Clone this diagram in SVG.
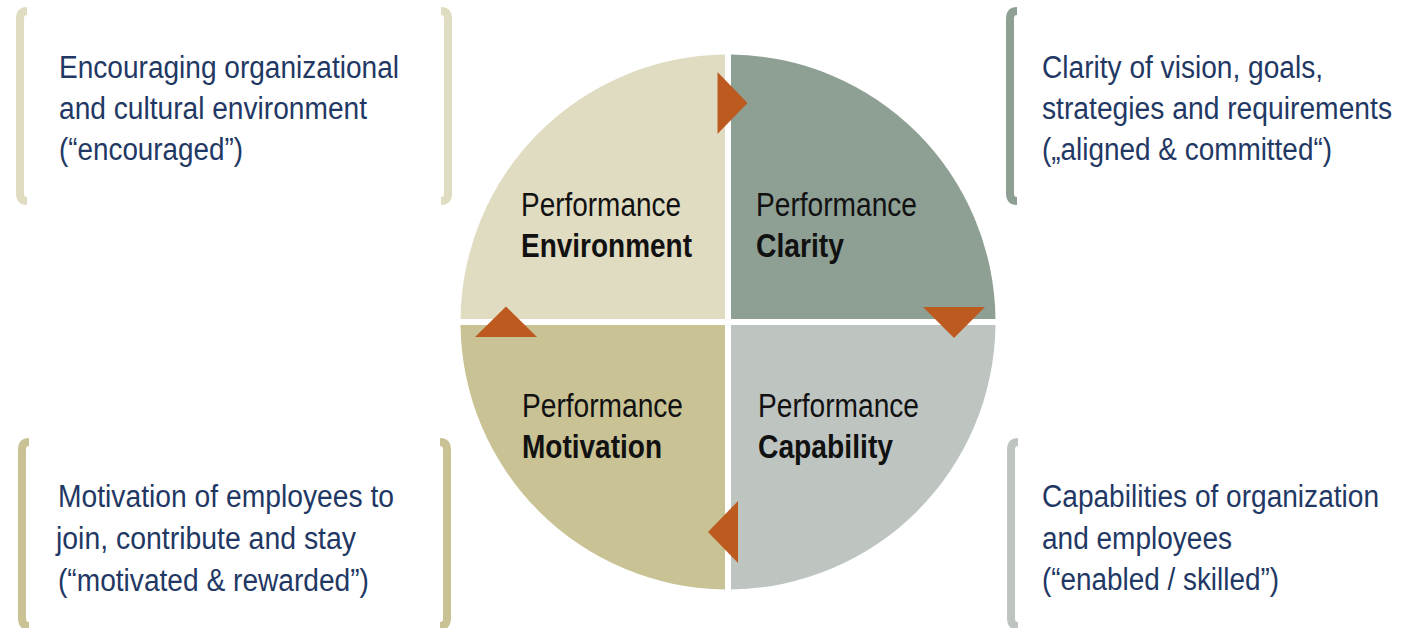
<svg xmlns="http://www.w3.org/2000/svg" width="1425" height="628" viewBox="0 0 1425 628">
<style>
  .q { stroke: none; }
  .lbl { font-family: "Liberation Sans Narrow", "Liberation Sans", Arial, sans-serif; font-size: 33px; fill: #111111; }
  .desc { font-family: "Liberation Sans Narrow", "Liberation Sans", Arial, sans-serif; font-size: 31px; fill: #1F3864; }
  .br { fill: none; stroke-width: 8; stroke-linecap: butt; }
  .arrow { fill: #BD5A1F; stroke: none; }
</style>
<rect x="0" y="0" width="1425" height="628" fill="#FFFFFF"/>

<g id="node-environment">
  <path class="q" fill="#E0DCC2" d="M725,319 V54.52 A267.5,267.5 0 0 0 460.52,319 Z"/>
  <text class="lbl" x="521" y="216" textLength="160" lengthAdjust="spacingAndGlyphs">Performance</text>
  <text class="lbl" x="521" y="257" textLength="171" lengthAdjust="spacingAndGlyphs" font-weight="bold">Environment</text>
</g>

<g id="node-clarity">
  <path class="q" fill="#8E9F94" d="M731,319 H995.48 A267.5,267.5 0 0 0 731,54.52 Z"/>
  <text class="lbl" x="756" y="216" textLength="161" lengthAdjust="spacingAndGlyphs">Performance</text>
  <text class="lbl" x="756" y="257" textLength="88" lengthAdjust="spacingAndGlyphs" font-weight="bold">Clarity</text>
</g>

<g id="node-capability">
  <path class="q" fill="#BEC5C1" d="M731,325 V589.48 A267.5,267.5 0 0 0 995.48,325 Z"/>
  <text class="lbl" x="758" y="417" textLength="161" lengthAdjust="spacingAndGlyphs">Performance</text>
  <text class="lbl" x="758" y="458" textLength="135" lengthAdjust="spacingAndGlyphs" font-weight="bold">Capability</text>
</g>

<g id="node-motivation">
  <path class="q" fill="#C9C294" d="M725,325 H460.52 A267.5,267.5 0 0 0 725,589.48 Z"/>
  <text class="lbl" x="522" y="417" textLength="161" lengthAdjust="spacingAndGlyphs">Performance</text>
  <text class="lbl" x="522" y="458" textLength="140" lengthAdjust="spacingAndGlyphs" font-weight="bold">Motivation</text>
</g>

<g id="connectors">
  <polygon class="arrow" points="717.5,72 747.5,103 717.5,134"/>
  <polygon class="arrow" points="923,307 985,307 954,338"/>
  <polygon class="arrow" points="738,501 708,532 738,563"/>
  <polygon class="arrow" points="475,337 506,306.5 537,337"/>
</g>

<g id="desc-environment">
  <path class="br" stroke="#E0DCC2" d="M27,11 Q20,11 20,19 V193 Q20,201 27,201"/>
  <path class="br" stroke="#E0DCC2" d="M441,11 Q448,11 448,19 V193 Q448,201 441,201"/>
  <text class="desc" x="59" y="78" textLength="340" lengthAdjust="spacingAndGlyphs">Encouraging organizational</text>
  <text class="desc" x="59" y="119" textLength="308" lengthAdjust="spacingAndGlyphs">and cultural environment</text>
  <text class="desc" x="59" y="160" textLength="184" lengthAdjust="spacingAndGlyphs">(“encouraged”)</text>
</g>

<g id="desc-clarity">
  <path class="br" stroke="#8E9F94" d="M1017,11 Q1010,11 1010,19 V193 Q1010,201 1017,201"/>
  <text class="desc" x="1042" y="78" textLength="281" lengthAdjust="spacingAndGlyphs">Clarity of vision, goals,</text>
  <text class="desc" x="1042" y="119" textLength="350" lengthAdjust="spacingAndGlyphs">strategies and requirements</text>
  <text class="desc" x="1042" y="160" textLength="290" lengthAdjust="spacingAndGlyphs">(„aligned &amp; committed“)</text>
</g>

<g id="desc-motivation">
  <path class="br" stroke="#C9C294" d="M29,442 Q22,442 22,450 V618 Q22,626 29,626"/>
  <path class="br" stroke="#C9C294" d="M440,442 Q447,442 447,450 V618 Q447,626 440,626"/>
  <text class="desc" x="58" y="507" textLength="336" lengthAdjust="spacingAndGlyphs">Motivation of employees to</text>
  <text class="desc" x="56" y="549" textLength="300" lengthAdjust="spacingAndGlyphs">join, contribute and stay</text>
  <text class="desc" x="58" y="591" textLength="311" lengthAdjust="spacingAndGlyphs">(“motivated &amp; rewarded”)</text>
</g>

<g id="desc-capability">
  <path class="br" stroke="#BEC5C1" d="M1018,442 Q1011,442 1011,450 V618 Q1011,626 1018,626"/>
  <text class="desc" x="1042" y="507" textLength="337" lengthAdjust="spacingAndGlyphs">Capabilities of organization</text>
  <text class="desc" x="1042" y="549" textLength="190" lengthAdjust="spacingAndGlyphs">and employees</text>
  <text class="desc" x="1042" y="590" textLength="237" lengthAdjust="spacingAndGlyphs">(“enabled / skilled”)</text>
</g>
</svg>
